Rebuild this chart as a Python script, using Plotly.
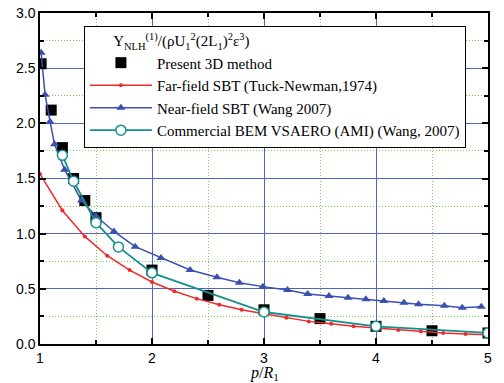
import plotly.graph_objects as go

# Present 3D method
p3d_x = [1.01, 1.1, 1.2, 1.3, 1.4, 1.5, 2.0, 2.5, 3.0, 3.5, 4.0, 4.5, 5.0]
p3d_y = [2.54, 2.12, 1.78, 1.50, 1.30, 1.145, 0.67, 0.44, 0.31, 0.23, 0.16, 0.12, 0.10]

# Far-field slender-body theory (Tuck-Newman, 1974)
far_x = [1.0, 1.2, 1.4, 1.6, 1.8, 2.0, 2.2, 2.4, 2.6, 2.8, 3.0,
         3.2, 3.4, 3.6, 3.8, 4.0, 4.2, 4.4, 4.6, 4.8, 5.0]
far_y = [1.54, 1.21, 0.975, 0.80, 0.67, 0.562, 0.478, 0.411, 0.356, 0.31, 0.275,
         0.237, 0.205, 0.183, 0.16, 0.145, 0.128, 0.113, 0.10, 0.091, 0.083]

# Near-field slender-body theory (Wang 2007)
near_x = [1.01, 1.045, 1.09, 1.13, 1.22, 1.37, 1.5, 1.66, 1.85, 2.08, 2.34, 2.58,
          2.78, 2.99, 3.21, 3.39, 3.58, 3.75, 3.91, 4.07, 4.25, 4.38, 4.61, 4.77, 4.94]
near_y = [2.64, 2.26, 2.015, 1.81, 1.58, 1.30, 1.16, 1.02, 0.882, 0.78, 0.671, 0.605,
          0.556, 0.52, 0.49, 0.453, 0.435, 0.42, 0.405, 0.39, 0.374, 0.36, 0.347, 0.329, 0.337]

# Commercial BEM VSAERO (AMI) (Wang, 2007)
bem_x = [1.2, 1.3, 1.5, 1.7, 2.0, 3.0, 4.0, 5.0]
bem_y = [1.71, 1.475, 1.10, 0.88, 0.645, 0.29, 0.16, 0.10]

NBSP = "\u00a0"
legend_title = (NBSP * 7 + "Y<sub>NLH</sub><sup>(1)</sup>/(ρU<sub>1</sub><sup>2</sup>"
                "(2L<sub>1</sub>)<sup>2</sup>ε<sup>3</sup>)")

SERIF = "Liberation Serif"
SANS = "Liberation Sans"

fig = go.Figure()
fig.add_trace(go.Scatter(
    x=p3d_x, y=p3d_y, mode="markers", name="Present 3D method",
    marker=dict(symbol="square", size=11, color="black"),
))
fig.add_trace(go.Scatter(
    x=far_x, y=far_y, mode="lines+markers", name="Far-field SBT (Tuck-Newman,1974)",
    line=dict(color="#f02828", width=1.5),
    marker=dict(symbol="circle", size=4, color="#f02828"),
))
fig.add_trace(go.Scatter(
    x=near_x, y=near_y, mode="lines+markers", name="Near-field SBT (Wang 2007)",
    line=dict(color="#3a4fae", width=1.5),
    marker=dict(symbol="triangle-up", size=8, color="#3a4fae"),
))
fig.add_trace(go.Scatter(
    x=bem_x, y=bem_y, mode="lines+markers",
    name="Commercial BEM VSAERO (AMI) (Wang, 2007)",
    line=dict(color="#17908c", width=1.8),
    marker=dict(symbol="circle", size=10, color="white",
                line=dict(color="#17908c", width=1.5)),
))

axis_common = dict(
    showline=True, linecolor="black", linewidth=1.5, mirror="ticks",
    ticks="inside", ticklen=6, tickwidth=1.5, tickcolor="black",
    showgrid=True, gridcolor="#5066bb", gridwidth=1,
    zeroline=False, automargin=False,
    tickfont=dict(family=SANS, size=14, color="black"),
)
minor_common = dict(ticks="inside", ticklen=4, tickcolor="black",
                    showgrid=True, gridcolor="#77cc4f", griddash="1px,2px", gridwidth=1)

fig.update_xaxes(range=[1, 5], dtick=1, tick0=1,
                 minor=dict(dtick=0.5, **minor_common), **axis_common)
fig.update_yaxes(range=[0, 3], dtick=0.5, tick0=0, tickformat=".1f",
                 minor=dict(dtick=0.25, **minor_common), **axis_common)

# x-axis title
fig.add_annotation(
    text="<i>p</i>/<i>R</i><sub>1</sub>", x=3, xref="x", y=-0.088, yref="paper",
    xanchor="center", yanchor="middle", showarrow=False,
    font=dict(family=SERIF, size=16, color="black"),
)

fig.update_layout(
    width=504, height=383,
    margin=dict(l=40, r=16, t=13, b=39),
    paper_bgcolor="white", plot_bgcolor="white",
    showlegend=True,
    legend=dict(
        x=0.098, y=0.961, xanchor="left", yanchor="top",
        bgcolor="white", bordercolor="black", borderwidth=1,
        font=dict(family=SERIF, size=15, color="black"),
        title=dict(text=legend_title, side="top",
                   font=dict(family=SERIF, size=15, color="black")),
        itemwidth=62, tracegroupgap=0,
    ),
)

fig.write_html("out.html")
